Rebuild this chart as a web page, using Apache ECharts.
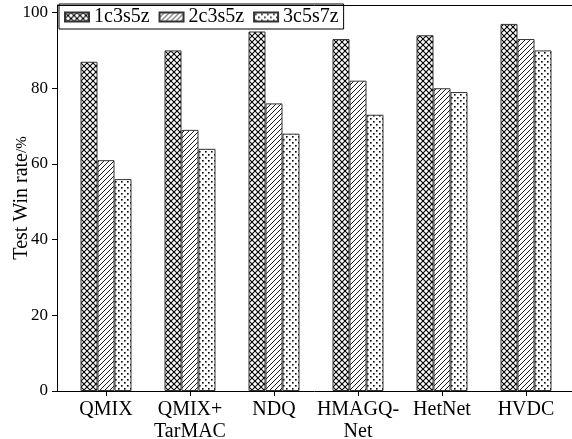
<!DOCTYPE html>
<html>
<head>
<meta charset="utf-8">
<script src="https://cdn.jsdelivr.net/npm/echarts@6/dist/echarts.min.js"></script>
<style>html,body{margin:0;padding:0;background:#fff}#c{width:572px;height:439px}</style>
</head>
<body>
<div id="c"></div>
<script>
const categories = ['QMIX', 'QMIX+\nTarMAC', 'NDQ', 'HMAGQ-\nNet', 'HetNet', 'HVDC'];
const seriesNames = ['1c3s5z', '2c3s5z', '3c5s7z'];
const s1c3s5z = [87, 90, 95, 93, 94, 97];
const s2c3s5z = [61, 69, 76, 82, 80, 93];
const s3c5s7z = [56, 64, 68, 73, 79, 90];
const yTicks = [0, 20, 40, 60, 80, 100];

const FONT = "'Liberation Serif', 'DejaVu Serif', serif";

function makeTile(size, draw) {
  const c = document.createElement('canvas');
  c.width = size; c.height = size;
  const ctx = c.getContext('2d');
  ctx.fillStyle = '#fff';
  ctx.fillRect(0, 0, size, size);
  draw(ctx, size);
  return c;
}
const crossTile = makeTile(6, (ctx, s) => {
  ctx.strokeStyle = '#000'; ctx.lineWidth = 1.1;
  for (let k = -1; k <= 1; k++) {
    ctx.beginPath(); ctx.moveTo(k * s, s); ctx.lineTo(k * s + s, 0); ctx.stroke();
    ctx.beginPath(); ctx.moveTo(k * s, 0); ctx.lineTo(k * s + s, s); ctx.stroke();
  }
});
const hatchTile = makeTile(5, (ctx, s) => {
  ctx.strokeStyle = '#000'; ctx.lineWidth = 0.9;
  for (let k = -1; k <= 1; k++) {
    ctx.beginPath(); ctx.moveTo(k * s, s); ctx.lineTo(k * s + s, 0); ctx.stroke();
  }
});
const dotTile = makeTile(6, (ctx, s) => {
  ctx.fillStyle = '#000';
  ctx.fillRect(1, 1, 1.6, 1.6);
  ctx.fillRect(4, 4, 1.6, 1.6);
});

const patterns = [crossTile, hatchTile, dotTile];
const values = [s1c3s5z, s2c3s5z, s3c5s7z];

const chart = echarts.init(document.getElementById('c'), null, { renderer: 'canvas' });
chart.setOption({
  animation: false,
  backgroundColor: '#fff',
  textStyle: { fontFamily: FONT, color: '#000' },
  grid: { left: 64, right: 4, top: 5, bottom: 48, containLabel: false, outerBoundsMode: 'none' },
  legend: {
    left: 59, top: 4,
    padding: [3, 5, 2, 5],
    borderColor: '#000', borderWidth: 1,
    itemWidth: 24, itemHeight: 9, itemGap: 9,
    icon: 'rect',
    textStyle: { fontFamily: FONT, fontSize: 20, color: '#000' },
    data: seriesNames
  },
  xAxis: {
    type: 'category',
    data: categories,
    axisLine: { show: false },
    axisTick: { show: true, alignWithLabel: true, length: 5, lineStyle: { color: '#000' } },
    axisLabel: { fontFamily: FONT, fontSize: 20, lineHeight: 22, color: '#000', margin: 8, interval: 0 },
    splitLine: { show: false }
  },
  yAxis: {
    type: 'value',
    offset: 7,
    min: 0, max: 102, interval: 20,
    name: '{a|Test Win rate}{b|/%}',
    nameLocation: 'middle',
    nameGap: 25,
    nameMoveOverlap: false,
    nameTextStyle: {
      rich: {
        a: { fontFamily: FONT, fontSize: 20, color: '#000' },
        b: { fontFamily: FONT, fontSize: 15, color: '#000' }
      }
    },
    axisLine: { show: true, lineStyle: { color: '#000', width: 1 } },
    axisTick: { show: true, length: 5, customValues: yTicks, lineStyle: { color: '#000' } },
    axisLabel: { fontFamily: FONT, fontSize: 17, color: '#000', margin: 9, align: 'right', verticalAlign: 'middle', customValues: yTicks },
    splitLine: { show: false }
  },
  series: seriesNames.map((name, i) => ({
    name: name,
    type: 'bar',
    data: values[i],
    barWidth: 17,
    barGap: '0%',
    itemStyle: {
      color: { image: patterns[i], repeat: 'repeat' },
      borderColor: '#333',
      borderWidth: 1
    }
  }))
});

const y0 = chart.convertToPixel({ yAxisIndex: 0 }, 0);
const yTop = chart.convertToPixel({ yAxisIndex: 0 }, 102);
const xL = 57;
const xR = chart.getWidth();
chart.setOption({
  graphic: [
    { type: 'line', z: 100, shape: { x1: xL, y1: Math.round(y0) + 0.5, x2: xR, y2: Math.round(y0) + 0.5 }, style: { stroke: '#000', lineWidth: 1 } },
    { type: 'line', z: 100, shape: { x1: xL, y1: Math.round(yTop) + 0.5, x2: xR, y2: Math.round(yTop) + 0.5 }, style: { stroke: '#000', lineWidth: 1 } }
  ]
});
</script>
</body>
</html>
